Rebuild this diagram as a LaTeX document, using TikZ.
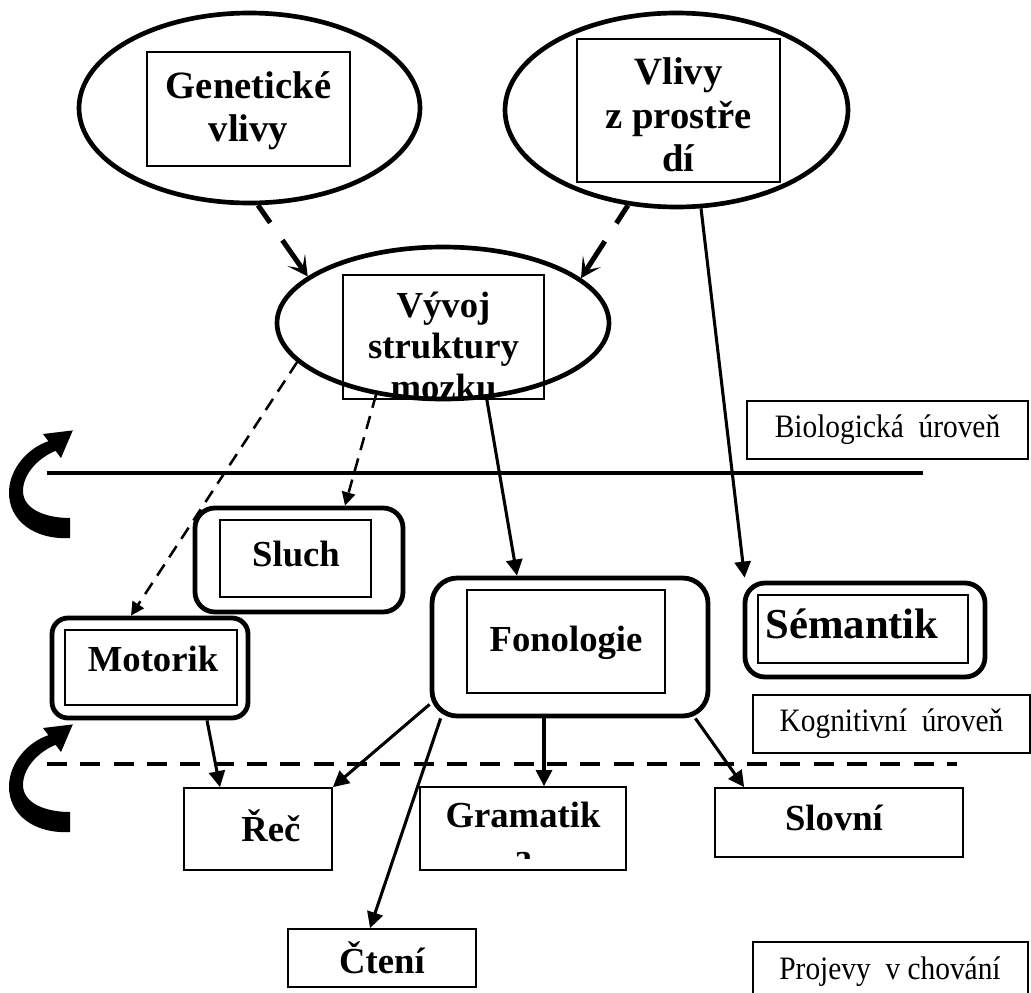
\documentclass[tikz,border=0pt]{standalone}
\usepackage{fontspec}
\setmainfont{Liberation Serif}
\newfontfamily\thinfont[FakeStretch=0.9]{Liberation Serif}
\usetikzlibrary{shapes.geometric,arrows.meta,calc}
\newcommand\boldlab{\fontsize{27.5}{32}\selectfont\bfseries}
\newcommand\boldtop{\fontsize{29}{32.5}\selectfont\bfseries}
\newcommand\boldlabB{\fontsize{27.5}{30.75}\selectfont\bfseries}
\newcommand\boldbig{\fontsize{32}{36}\selectfont\bfseries}
\newcommand\levlab{\thinfont\fontsize{24.5}{28}\selectfont}
\tikzset{
  bigell/.style={ellipse, draw, line width=3.5pt, inner sep=0pt},
  inbox/.style={draw, line width=1.3pt, inner sep=0pt},
  roundbox/.style={draw, line width=3.6pt, rounded corners=15pt, inner sep=0pt},
  plainbox/.style={draw, line width=1.3pt, inner sep=0pt},
  levelbox/.style={draw, line width=1.2pt, inner sep=0pt, font=\levlab},
  lab/.style={inner sep=0pt, align=center, font=\boldlab},
  arr/.style={line width=2.3pt, -{Triangle[length=12pt,width=12pt]}},
  thindash/.style={line width=1.9pt, dash pattern=on 10pt off 6.5pt, -{Triangle[length=10pt,width=10pt]}},
  thickdash/.style={line width=3.8pt, dash pattern=on 16pt off 16pt on 60pt off 1pt, -{Stealth[length=15pt,width=16pt,inset=8pt]}},
  curl/.style={fill=black, draw=none}
}
\begin{document}
\begin{tikzpicture}[x=0.75pt,y=-0.75pt]
\useasboundingbox (0,0) rectangle (1031,992);
\clip (0,0) rectangle (1031,992);

% ellipses
\node[bigell, minimum width=255.75pt, minimum height=142.5pt] (gen) at (249.5,108) {};
\node[inbox, minimum width=152.25pt, minimum height=85.5pt] (genin) at (248.5,109) {};
\node[lab, font=\boldtop] (gentxt) at (248.5,111) {Genetické\\vlivy};

\node[bigell, minimum width=257.25pt, minimum height=145.5pt] (vli) at (676.5,110) {};
\node[inbox, minimum width=152.25pt, minimum height=107.25pt] (vliin) at (678.5,110.5) {};
\node[lab, font=\boldtop] (vlitxt) at (678.5,115) {Vlivy\\z prostře\\dí};

\node[bigell, minimum width=249pt, minimum height=114pt] (vyv) at (443,323) {};
\node[inbox, minimum width=150.75pt, minimum height=93pt] (vyvin) at (443.5,337) {};
\begin{scope}
  \clip (vyvin.north west) rectangle ($(vyvin.south east)+(0,-2)$);
  \node[lab, font=\boldlabB] (vyvtxt) at (443.5,346) {Vývoj\\struktury\\mozku};
\end{scope}

% cognitive boxes
\node[roundbox, minimum width=156pt, minimum height=78pt] (slu) at (299,560) {};
\node[inbox, minimum width=113.25pt, minimum height=57.75pt] (sluin) at (295.5,558.5) {};
\node[lab] (slutxt) at (296,554) {Sluch};

\node[roundbox, rounded corners=12pt, minimum width=147pt, minimum height=75pt] (mot) at (150,668) {};
\node[inbox, minimum width=129pt, minimum height=56.25pt] (motin) at (151,667.5) {};
\node[lab] (mottxt) at (153,659) {Motorik};

\node[roundbox, rounded corners=19pt, minimum width=207pt, minimum height=103.5pt] (fon) at (570,647) {};
\node[inbox, minimum width=148.5pt, minimum height=77.25pt] (fonin) at (566,641.5) {};
\node[lab] (fontxt) at (566,643) {Fonologie};

\node[roundbox, minimum width=180pt, minimum height=70.5pt] (sem) at (865,630) {};
\node[inbox, minimum width=157.5pt, minimum height=51pt] (semin) at (863,629) {};
\node[lab, font=\boldbig] (semtxt) at (852,624) {Sémantik};

% behaviour boxes
\node[plainbox, minimum width=111pt, minimum height=61.5pt] (rec) at (258,829) {};
\node[lab] (rectxt) at (271,826) {Řeč};

\node[plainbox, minimum width=154.5pt, minimum height=62.25pt] (gra) at (523,828.5) {};
\begin{scope}
  \clip (gra.north west) rectangle ($(gra.south east)+(0,-12)$);
  \node[lab] (gratxt) at (523,836) {Gramatik\\a};
\end{scope}

\node[plainbox, minimum width=186pt, minimum height=51.75pt] (slo) at (839,822.5) {};
\node[lab] (slotxt) at (834,818) {Slovní};

\node[plainbox, minimum width=141pt, minimum height=43.5pt] (cte) at (382,958) {};
\node[lab] (ctetxt) at (382,958) {Čtení};

% level labels
\node[levelbox, minimum width=210.75pt, minimum height=43.5pt] (bio) at (887.5,430) {Biologická\ \ úroveň};
\node[levelbox, minimum width=207.75pt, minimum height=43.5pt] (kog) at (891.5,724) {Kognitivní\ \ úroveň};
\node[levelbox, minimum width=206.25pt, minimum height=43.5pt] (pro) at (890.5,971) {};
\node[inner sep=0pt, font=\levlab] (protxt) at (890,972) {Projevy\ \ v chování};

% level separators
\draw[line width=3pt] (47,473) -- (923,473);
\draw[line width=2.8pt, dash pattern=on 15pt off 10pt] (47,764) -- (957,764);

% connectors
\draw[thickdash] (gen.-85) -- (vyv.161);
\draw[thickdash] (vli.-117.6) -- (vyv.18.3);
\draw[arr] (vli.-76.4) -- ($(sem.north west)+(2,-3)$);
\draw[arr] (vyv.-60) -- ($(fon.north)+(-53,0)$);
\draw[thindash] (vyv.-133.3) -- ($(slu.north)+(46,0)$);
\draw[thindash] (vyv.-165.8) -- ($(mot.north)+(-19,0)$);
\draw[arr] ($(mot.south)+(57,0)$) -- ($(rec.north)+(-38,0)$);
\draw[arr] ($(fon.south west)+(0,-14)$) -- (rec.north east);
\draw[arr] ($(fon.south west)+(11,0)$) -- ($(cte.north)+(-12,0)$);
\draw[arr] ($(fon.south)+(-26,0)$) -- ($(gra.north)+(21,0)$);
\draw[arr] ($(fon.south east)+(-15,0)$) -- ($(slo.north west)+(30,0)$);

% curved arrows
\foreach \dy in {0,-294} {
  \fill[curl, shift={(0,\dy)}]
    (70,832) .. controls (35,834) and (8,815) .. (9,785)
    .. controls (10,762) and (28,742) .. (48.4,735.2)
    -- (43,728) -- (72.8,724.4) -- (61,752) -- (55.6,744.8)
    .. controls (38,752) and (23,768) .. (23,785)
    .. controls (23,803) and (45,812) .. (70,812) -- cycle;
}
\end{tikzpicture}
\end{document}
